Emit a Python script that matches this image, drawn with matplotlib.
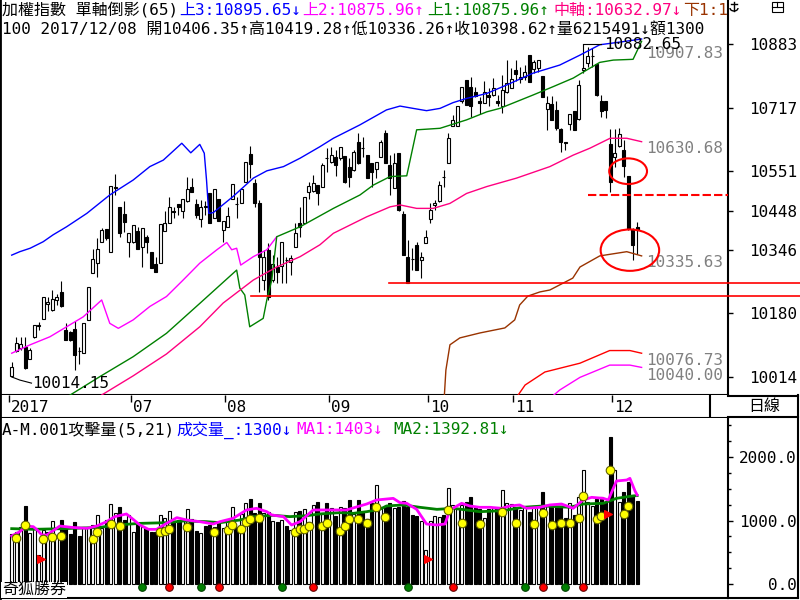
import numpy as np
import matplotlib.pyplot as plt
from matplotlib.patches import Ellipse, Rectangle, Arc
from matplotlib.lines import Line2D

plt.rcParams['font.family'] = ['DejaVu Sans Mono', 'Noto Sans CJK TC']

# Daily candles, index 0 = first visible day, index 139 = 2017/12/08
opens = [10016, 10083, 10089, 10093, 10060, 10118, 10148, 10165, 10205, 10189,
         10215, 10237, 10137, 10132, 10139, 10083, 10076, 10163, 10286, 10311,
         10367, 10400, 10341, 10507, 10457, 10440, 10365, 10367, 10395, 10354,
         10379, 10339, 10309, 10312, 10396, 10417, 10446, 10466, 10448, 10472,
         10509, 10466, 10426, 10459, 10495, 10428, 10478, 10398, 10406, 10478,
         10466, 10469, 10524, 10596, 10520, 10467, 10267, 10346, 10267, 10302,
         10304, 10320, 10315, 10354, 10415, 10415, 10498, 10500, 10515, 10511,
         10586, 10576, 10589, 10585, 10591, 10563, 10553, 10626, 10612, 10594,
         10572, 10556, 10589, 10650, 10567, 10507, 10598, 10440, 10328, 10322,
         10359, 10318, 10363, 10426, 10463, 10472, 10536, 10573, 10669, 10669,
         10733, 10789, 10770, 10759, 10735, 10728, 10750, 10750, 10735, 10721,
         10759, 10768, 10814, 10791, 10796, 10855, 10817, 10820, 10800, 10713,
         10727, 10711, 10661, 10628, 10674, 10707, 10687, 10814, 10834, 10851,
         10831, 10733, 10733, 10622, 10589, 10617, 10607, 10539, 10400, 10406.35]
highs = [10054, 10119, 10119, 10118, 10089, 10150, 10158, 10224, 10224, 10241,
         10230, 10265, 10154, 10133, 10161, 10093, 10154, 10248, 10347, 10376,
         10402, 10400, 10513, 10544, 10457, 10472, 10391, 10411, 10406, 10402,
         10385, 10339, 10328, 10413, 10446, 10483, 10457, 10466, 10478, 10535,
         10533, 10478, 10476, 10474, 10495, 10504, 10478, 10422, 10458, 10517,
         10485, 10507, 10576, 10617, 10530, 10476, 10346, 10363, 10333, 10328,
         10367, 10328, 10333, 10415, 10457, 10485, 10524, 10541, 10515, 10572,
         10611, 10615, 10607, 10614, 10591, 10585, 10607, 10652, 10641, 10594,
         10572, 10576, 10633, 10659, 10594, 10598, 10598, 10446, 10372, 10350,
         10367, 10341, 10398, 10467, 10476, 10526, 10553, 10650, 10698, 10720,
         10770, 10789, 10796, 10772, 10744, 10787, 10768, 10794, 10750, 10802,
         10841, 10820, 10840, 10824, 10828, 10855, 10841, 10840, 10800, 10746,
         10746, 10733, 10663, 10628, 10701, 10707, 10789, 10882.65, 10875, 10872,
         10831, 10750, 10733, 10661, 10661, 10663, 10633, 10539, 10402, 10419.28]
lows = [10014.15, 10080, 10085, 10036, 10060, 10117, 10137, 10165, 10185, 10185,
        10202, 10197, 10110, 10109, 10032, 10048, 10076, 10163, 10286, 10274,
        10367, 10372, 10341, 10489, 10380, 10393, 10328, 10364, 10347, 10302,
        10337, 10298, 10288, 10312, 10395, 10416, 10428, 10437, 10428, 10471,
        10497, 10428, 10406, 10437, 10415, 10428, 10422, 10367, 10406, 10478,
        10428, 10469, 10524, 10533, 10457, 10237, 10241, 10215, 10262, 10259,
        10259, 10259, 10280, 10354, 10380, 10415, 10479, 10498, 10463, 10510,
        10550, 10573, 10539, 10580, 10520, 10511, 10552, 10571, 10589, 10533,
        10511, 10533, 10589, 10573, 10489, 10506, 10446, 10332, 10258.6, 10293,
        10293, 10272, 10363, 10415, 10450, 10471, 10511, 10573, 10669, 10669,
        10728, 10724, 10693, 10745, 10701, 10728, 10720, 10746, 10720, 10702,
        10755, 10767, 10787, 10781, 10789, 10784, 10807, 10811, 10744, 10659,
        10685, 10659, 10602, 10607, 10659, 10659, 10685, 10807, 10824, 10824,
        10746, 10693, 10689, 10498, 10563, 10615, 10537, 10398, 10319, 10336.26]
closes = [10041, 10104, 10100, 10037, 10085, 10150, 10150, 10224, 10210, 10218,
          10224, 10198, 10111, 10110, 10071, 10081, 10154, 10248, 10321, 10347,
          10398, 10376, 10513, 10509, 10389, 10419, 10391, 10411, 10347, 10402,
          10367, 10298, 10289, 10413, 10417, 10457, 10445, 10457, 10478, 10504,
          10498, 10437, 10457, 10458, 10415, 10504, 10422, 10422, 10434, 10517,
          10465, 10504, 10576, 10570, 10469, 10328, 10328, 10224, 10309, 10289,
          10367, 10319, 10324, 10389, 10406, 10485, 10513, 10521, 10495, 10567,
          10585, 10594, 10567, 10614, 10524, 10537, 10602, 10572, 10611, 10533,
          10550, 10576, 10628, 10573, 10533, 10573, 10450, 10333, 10259, 10321,
          10293, 10327, 10380, 10450, 10467, 10515, 10535, 10637, 10685, 10720,
          10770, 10724, 10720, 10746, 10728, 10759, 10744, 10768, 10730, 10763,
          10781, 10791, 10805, 10796, 10811, 10785, 10837, 10840, 10744, 10730,
          10685, 10663, 10628, 10624, 10701, 10659, 10776, 10820, 10852, 10852,
          10750, 10707, 10711, 10524, 10598, 10648, 10565, 10400, 10359, 10398.62]

# Volume (億)
volumes = [787, 824, 903, 1229, 798, 887, 457, 850, 824, 992,
           756, 1008, 903, 787, 972, 756, 893, 877, 929, 1082,
           877, 1008, 1260, 1123, 1208, 1008, 1087, 824, 945, 903,
           861, 824, 824, 1087, 1035, 1155, 982, 1008, 1008, 1176,
           1019, 840, 798, 913, 929, 903, 982, 877, 1008, 1208,
           893, 1103, 1271, 1334, 1113, 1271, 1123, 1139, 997, 982,
           1008, 913, 850, 1139, 1155, 1176, 982, 1244, 1296, 1123,
           1271, 1192, 1071, 1218, 1192, 1323, 1103, 1323, 1139, 1019,
           1271, 1559, 1208, 1229, 1281, 1192, 1208, 1312, 1208, 1087,
           1071, 997, 536, 997, 1071, 1060, 1087, 1507, 1244, 1176,
           1244, 1296, 1365, 1208, 1176, 1035, 1176, 1192, 1192, 1481,
           1271, 1260, 1208, 1166, 1218, 1139, 1229, 1208, 1454, 1229,
           1208, 1208, 1208, 1035, 1271, 1087, 1365, 1796, 1296, 1229,
           1334, 1375, 1296, 2320, 1796, 1296, 1454, 1611, 1402, 1300]

# Band lines (index, price)
up3_x = [0, 1.8, 4.1, 7.0, 9.2, 12.2, 16.7, 21.8, 27.0, 30.7, 33.7, 37.8, 39.8, 41.8,
         42.8, 43.3, 43.8, 44.8, 49.2, 53.7, 56.7, 60.4, 64.1, 68.5, 71.5, 77.4, 83.3,
         86.3, 89.2, 92.2, 95.2, 98.1, 101.1, 105.6, 110.0, 115.9, 121.8, 126.3,
         130.7, 135.2, 140]
up3_y = [10332, 10341, 10350, 10367, 10385, 10406, 10441, 10489, 10528, 10563, 10580,
         10624, 10599, 10621, 10598, 10528, 10441, 10443, 10485, 10533, 10552, 10563,
         10585, 10615, 10637, 10672, 10711, 10721, 10715, 10709, 10715, 10730, 10741,
         10754, 10776, 10807, 10828, 10854, 10881, 10888, 10896]
up2_x = [0, 4.1, 8.5, 12.2, 15.9, 20.0, 21.8, 23.7, 27.0, 30.7, 34.4, 38.1, 41.8,
         45.6, 47.8, 48.9, 50.0, 50.9, 53.7, 56.7, 58.9]
up2_y = [10076, 10098, 10119, 10145, 10171, 10215, 10154, 10141, 10163, 10198, 10224,
         10267, 10311, 10346, 10365, 10346, 10350, 10306, 10328, 10346, 10380]
up1_x = [11.2, 13.0, 19.6, 27.0, 34.4, 41.8, 50.0, 50.7, 51.8, 52.9, 55.9, 56.7, 57.8,
         58.9, 64.1, 71.5, 77.4, 80.4, 84.1, 87.8, 90.0, 95.2, 101.1, 105.6, 108.5,
         115.9, 120.4, 124.8, 127.8, 130.7, 133.7, 138.1, 140]
up1_y = [9954, 9967, 10015, 10067, 10128, 10206, 10293, 10246, 10228, 10145, 10167,
         10215, 10267, 10380, 10406, 10454, 10489, 10515, 10537, 10539, 10659, 10663,
         10685, 10706, 10715, 10750, 10772, 10794, 10815, 10835, 10841, 10843, 10890]
mid_x = [20.0, 27.0, 34.4, 41.8, 47.0, 53.7, 58.9, 64.1, 68.5, 71.5, 78.9, 84.1, 86.3,
         90.0, 93.7, 97.4, 101.1, 105.6, 112.2, 119.6, 124.8, 128.5, 133.0, 136.7, 140]
mid_y = [9967, 10017, 10074, 10145, 10207, 10267, 10301, 10328, 10359, 10389, 10432,
         10458, 10463, 10454, 10454, 10467, 10493, 10511, 10533, 10563, 10593, 10611,
         10637, 10637, 10628]
dn1_x = [96.1, 96.5, 97.4, 99.6, 104.1, 109.6, 111.8, 112.9, 114.7, 117.4, 119.6,
         124.7, 126.3, 130.7, 136.7, 140]
dn1_y = [9954, 10032, 10098, 10116, 10129, 10142, 10163, 10202, 10225, 10236, 10241,
         10272, 10301, 10330, 10341, 10330]
dn2_x = [111.8, 114.1, 118.5, 126.3, 132.9, 137.4, 140]
dn2_y = [9954, 9993, 10027, 10050, 10083, 10083, 10076]
dn3_x = [119.2, 121.8, 126.3, 132.9, 137.4, 140]
dn3_y = [9954, 9980, 10013, 10045, 10045, 10039]

# Volume averages (index, value)
ma1_x = [0, 1.8, 3.2, 4.8, 5.7, 6.7, 7.8, 9.2, 10.7, 13.3, 16.7, 18.9, 21.1, 22.9,
         25.5, 27, 28.5, 30.4, 32.2, 34.4, 36.7, 38.9, 41.8, 44.8, 46.3, 49.2, 52.2,
         54.4, 56.7, 57.8, 60.4, 62.2, 64.1, 67, 70, 74.4, 77.4, 78.9, 81.1, 84.8,
         86.3, 87.8, 90, 92.2, 94.5, 96.3, 97.4, 100, 101.8, 104, 106.3, 108.9, 110.7,
         112.9, 114.4, 117.4, 119.6, 122.2, 124.8, 127, 128.9, 131.5, 132.6, 134.4,
         136.7, 137.4, 138.5, 139]
ma1_y = [756, 824, 913, 903, 850, 772, 772, 840, 913, 892, 876, 913, 982, 1061, 1103,
         1018, 929, 861, 861, 955, 1045, 1008, 982, 945, 982, 1034, 1166, 1192, 1139,
         1087, 1061, 929, 982, 1166, 1166, 1166, 1229, 1260, 1323, 1349, 1281, 1271,
         1176, 945, 929, 945, 1166, 1271, 1229, 1208, 1208, 1192, 1229, 1245, 1192,
         1208, 1245, 1260, 1192, 1323, 1365, 1349, 1323, 1622, 1638, 1664, 1470, 1403]
ma2_x = [0, 4.8, 11.6, 19.6, 23.3, 28.5, 34.4, 38.1, 43.3, 46.3, 50.7, 53.7, 58.1,
         61.8, 65.6, 68.5, 73, 75.9, 78.9, 81.8, 83.3, 87, 90.7, 94.5, 98.2, 104,
         109.2, 113.6, 118.1, 124, 127, 131.5, 134.4, 138, 139]
ma2_y = [872, 861, 872, 892, 929, 955, 966, 992, 982, 966, 1008, 1061, 1082, 1061,
         1076, 1103, 1124, 1113, 1139, 1176, 1229, 1245, 1208, 1176, 1192, 1139, 1155,
         1208, 1229, 1208, 1260, 1271, 1349, 1386, 1393]

# Signal markers in the volume panel
dot_x = [1, 3, 7, 9, 11, 18, 19, 22, 24, 33, 34, 35, 39, 45, 48, 49, 51, 52, 53, 55,
         63, 64, 65, 66, 69, 70, 73, 74, 75, 77, 79, 81, 83, 97, 100, 104, 109, 112,
         116, 118, 120, 122, 124, 126, 127, 130, 131, 133, 136, 137]
dot_y = [719, 929, 704, 745, 756, 704, 824, 950, 913, 824, 840, 871, 903, 824, 845,
         934, 861, 971, 1029, 1045, 824, 871, 871, 913, 913, 966, 840, 913, 1019,
         1019, 966, 1208, 1060, 1166, 966, 945, 1139, 966, 945, 1123, 929, 966, 966,
         1045, 1386, 1029, 1071, 1796, 1103, 1229]
flag_x = [6.6, 92.6, 132.6]
flag_y = [400, 400, 1100]
buy_x = [29, 42, 60, 88, 114, 123]
sell_x = [35, 46, 67, 98, 118, 127]

month_pos = [-0.5, 26.5, 47.5, 70.5, 92.5, 111.5, 133.5]
month_lbl = ['2017', '07', '08', '09', '10', '11', '12']
price_ticks = [10014, 10180, 10346, 10448, 10551, 10717, 10883]
vol_ticks = [0, 1000, 2000]

W, H = 800, 600
FS = 11.5
BLUE, MAG, GRN, PINK, BRN, RED = '#0000ff', '#ff00ff', '#008000', '#ff0080', '#993300', '#ff0000'


# pixel box (top-left origin) -> figure rect
def box(x0, y0, x1, y1):
    return [x0 / W, 1 - y1 / H, (x1 - x0) / W, (y1 - y0) / H]


def px(x, y):
    return x / W, 1 - y / H


def fig_line(fig, xs, ys, lw=1.5):
    fig.add_artist(Line2D([x / W for x in xs], [1 - y / H for y in ys], color='black', lw=lw))


def style_axis(ax):
    for s in ax.spines.values():
        s.set_color('black')
    ax.spines['top'].set_visible(False)
    ax.spines['left'].set_linewidth(2)
    ax.spines['right'].set_linewidth(1.5)
    ax.spines['bottom'].set_linewidth(1.5)
    ax.set_xlim(-2.6, 159.2)
    ax.set_xticks([])


def right_ticks(ax, ticks, labels):
    ax.yaxis.tick_right()
    ax.set_yticks(ticks)
    ax.set_yticklabels(labels)
    ax.tick_params(axis='y', direction='out', length=3.6, width=1, pad=46, labelsize=FS)
    for t in ax.get_yticklabels():
        t.set_horizontalalignment('right')


def main():
    fig = plt.figure(figsize=(8, 6), dpi=100)

    ax = fig.add_axes(box(0, 0, 728, 395))
    ax_m = fig.add_axes(box(0, 395, 728, 418))
    ax_v = fig.add_axes(box(0, 418, 728, 598))
    for a in (ax, ax_m, ax_v):
        style_axis(a)

    # Candles
    idx = np.arange(len(closes))
    o, h, l, c = map(np.array, (opens, highs, lows, closes))
    up = c > o
    lo = np.minimum(o, c)
    bh = np.maximum(np.abs(c - o), 0.8)
    ax.vlines(idx, l, h, color='black', lw=0.8, zorder=2)
    ax.bar(idx[up], bh[up], bottom=lo[up], width=0.68, facecolor='white',
           edgecolor='black', lw=0.8, zorder=2)
    ax.bar(idx[~up], bh[~up], bottom=lo[~up], width=0.68, color='black',
           edgecolor='black', lw=0.8, zorder=2)

    # Bands
    ax.plot(up3_x, up3_y, color=BLUE, lw=1, zorder=3)
    ax.plot(up2_x, up2_y, color=MAG, lw=1, zorder=3)
    ax.plot(up1_x, up1_y, color=GRN, lw=1, zorder=3)
    ax.plot(mid_x, mid_y, color=PINK, lw=1, zorder=3)
    ax.plot(dn1_x, dn1_y, color=BRN, lw=1, zorder=3)
    ax.plot(dn2_x, dn2_y, color=RED, lw=1, zorder=3)
    ax.plot(dn3_x, dn3_y, color=MAG, lw=1, zorder=3)

    # Support lines and marks
    ax.plot([53.1, 175.2], [10226, 10226], color=RED, lw=1.2, clip_on=False, zorder=4)
    ax.plot([83.9, 175.2], [10258.6, 10258.6], color=RED, lw=1.2, clip_on=False, zorder=4)
    ax.plot([128.1, 159.2], [10489, 10489], color=RED, lw=1.5, ls=(0, (4, 1.5)), zorder=4)
    ax.add_patch(Ellipse((137.0, 10551), 8.4, 67, fill=False, ec=RED, lw=1.5, zorder=5))
    ax.add_patch(Ellipse((137.4, 10345), 13.0, 108, fill=False, ec=RED, lw=1.5, zorder=5))

    # High / low labels
    ax.plot([127, 131], [10882.65, 10882.65], color='black', lw=0.8, zorder=4)
    ax.text(131.6, 10882.65, '10882.65', fontsize=FS, va='center', zorder=4)
    ax.plot([0, 1.8, 4.4], [10014.15, 10006, 9998], color='black', lw=0.8)
    ax.text(4.5, 9998, '10014.15', fontsize=FS, va='center')
    grey = '#808080'
    for val, yy in [('10907.83', 10859), ('10630.68', 10611), ('10335.63', 10312),
                    ('10076.73', 10058), ('10040.00', 10019)]:
        ax.text(141.1, yy, val, fontsize=FS, va='center', color=grey, zorder=1)

    ax.set_ylim(9967, 10997.8)
    right_ticks(ax, price_ticks, [str(v) for v in price_ticks])

    # Header texts (clipped at the plot edge)
    head = [(2, 10, '加權指數 單軸倒影(65)', 'black'),
            (179, 10, '上3:10895.65↓', BLUE),
            (302, 10, '上2:10875.96↑', MAG),
            (427, 10, '上1:10875.96↑', GRN),
            (553, 10, '中軸:10632.97↓', PINK),
            (683, 10, '下1:10335.63↓', BRN),
            (2, 29, '100 2017/12/08 開10406.35↑高10419.28↑低10336.26↑收10398.62↑量6215491↓額1300',
             'black')]
    for x, y, s, col in head:
        xf, yf = px(x, y)
        ax.text(xf, yf, s, transform=fig.transFigure, fontsize=FS, color=col,
                va='center', clip_on=True, zorder=6)

    # Month strip
    ax_m.set_ylim(0, 1)
    ax_m.set_yticks([])
    ax_m.spines['right'].set_visible(False)
    ax_m.vlines(month_pos, 0.7, 1, color='black', lw=1)
    for pos, lbl in zip(month_pos, month_lbl):
        ax_m.text(pos + 0.4, 0.45, lbl, fontsize=FS, va='center')
    ax_m.plot([710 / 728] * 2, [0, 1], transform=ax_m.transAxes, color='black', lw=1.5)

    # Volume panel
    vol = np.array(volumes)
    ax_v.bar(idx[up], vol[up], width=0.68, facecolor='white', edgecolor='black', lw=0.8)
    ax_v.bar(idx[~up], vol[~up], width=0.68, color='black', edgecolor='black', lw=0.8)
    ax_v.plot(ma2_x, ma2_y, color=GRN, lw=2, zorder=3)
    ax_v.plot(ma1_x, ma1_y, color=MAG, lw=2, zorder=3)
    ax_v.scatter(dot_x, dot_y, s=38, color='#ffff00', edgecolors='#606000', lw=0.8, zorder=4)
    ax_v.scatter(flag_x, flag_y, s=30, marker='>', color=RED, zorder=4)
    ax_v.scatter(buy_x, [-50] * len(buy_x), s=30, color=GRN, edgecolors='#004000', lw=0.8,
                 zorder=4, clip_on=False)
    ax_v.scatter(sell_x, [-50] * len(sell_x), s=30, color=RED, edgecolors='#600000', lw=0.8,
                 zorder=4, clip_on=False)
    ax_v.set_ylim(-220.5, 2614.5)
    right_ticks(ax_v, vol_ticks, ['0.0', '1000.0', '2000.0'])
    ax_v.set_yticks([250, 500, 750, 1250, 1500, 1750, 2250, 2500], minor=True)
    ax_v.tick_params(axis='y', which='minor', direction='out', length=2.5, width=1)

    vhead = [(2, 430, 'A-M.001攻擊量(5,21)', 'black'),
             (176, 430, '成交量_:1300↓', BLUE),
             (296, 430, 'MA1:1403↓', MAG),
             (393, 430, 'MA2:1392.81↓', GRN)]
    for x, y, s, col in vhead:
        xf, yf = px(x, y)
        ax_v.text(xf, yf, s, transform=fig.transFigure, fontsize=FS, color=col,
                  va='center', clip_on=True, zorder=6)
    xf, yf = px(2, 590)
    ax_v.text(xf, yf, '奇狐勝券', transform=fig.transFigure, fontsize=FS, va='center',
              zorder=6, bbox=dict(facecolor='white', edgecolor='none', pad=0.5))

    # Right side frame, 日線 box
    fig_line(fig, [728, 798], [396, 396])
    fig_line(fig, [728, 798], [417, 417])
    fig_line(fig, [798, 798], [395, 598])
    fig_line(fig, [728, 798], [598, 598])
    xf, yf = px(764, 407)
    fig.text(xf, yf, '日線', fontsize=FS, ha='center', va='center')

    # small toolbar icons top right
    fig_line(fig, [734, 734], [2, 11], lw=1)
    fig_line(fig, [731, 737], [4, 4], lw=1)
    fig.add_artist(Arc(px(734, 8), 8 / W, 6 / H, theta1=180, theta2=360, color='black', lw=1))
    fig.add_artist(Rectangle(px(772, 12), 11 / W, 10 / H, fill=False, ec='black', lw=0.8))
    fig_line(fig, [772, 783], [7, 7], lw=0.8)
    fig_line(fig, [777, 777], [2, 7], lw=0.8)

    fig.savefig('out.png', dpi=100)


if __name__ == '__main__':
    main()
